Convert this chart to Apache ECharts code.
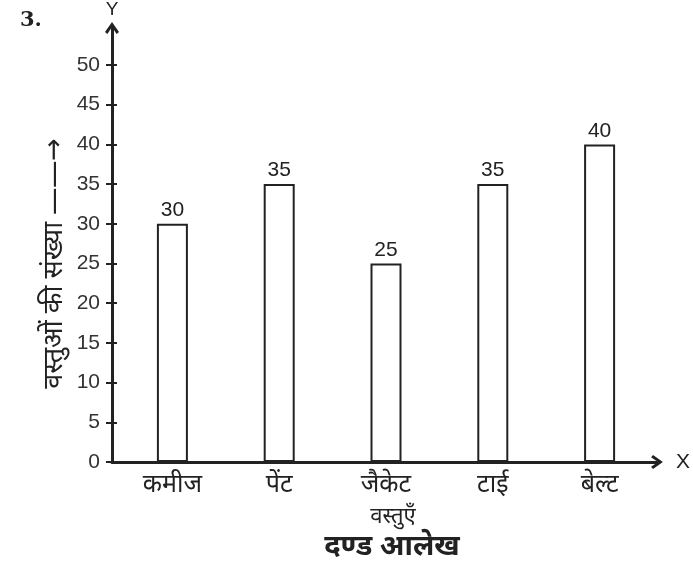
<!DOCTYPE html>
<html><head><meta charset="utf-8">
<script src="https://cdn.jsdelivr.net/npm/echarts@6/dist/echarts.min.js"></script>
<style>html,body{margin:0;padding:0;background:#fff}#c{width:693px;height:575px}</style>
</head><body><div id="c"></div>
<script>
const categories = ['कमीज', 'पेंट', 'जैकेट', 'टाई', 'बेल्ट'];
const values = [30, 35, 25, 35, 40];
const yMin = 0, yMax = 50, yStep = 5;
const xName = 'वस्तुएँ';
const yName = 'वस्तुओं की संख्या ——→';
const titleText = 'दण्ड आलेख';
const numberText = '3.';

const INK = '#222';
const FONT = '"Liberation Sans", "Noto Sans", sans-serif';
const DEVA = '"Noto Sans", "DejaVu Sans", sans-serif';
const ARROW = 'path://M0,9.2 L6.5,0 L13,9.2 L10.8,11 L6.5,4.6 L2.2,11 Z';

const chart = echarts.init(document.getElementById('c'));
chart.setOption({
  animation: false,
  backgroundColor: '#fff',
  title: [
    { text: numberText, left: 15, top: 5, textStyle: { fontFamily: '"DejaVu Serif", serif', fontWeight: 'bold', fontSize: 21, color: INK } },
    { text: xName, left: 388, top: 501, textAlign: 'center', textStyle: { fontFamily: DEVA, fontWeight: 'normal', fontSize: 22, color: INK } },
    { text: titleText, left: 387, top: 527, textAlign: 'center', textStyle: { fontFamily: DEVA, fontWeight: 'bold', fontSize: 29, color: INK } }
  ],
  grid: [
    { left: 119, right: 40, top: 65, bottom: 113 },
    { left: 112, right: 34, top: 28, bottom: 113 }
  ],
  xAxis: [
    { type: 'category', gridIndex: 0, data: categories,
      axisLine: { show: false }, axisTick: { show: false },
      axisLabel: { margin: 10, fontSize: 25, color: INK, fontFamily: DEVA } },
    { type: 'value', gridIndex: 1, min: 0, max: 1,
      axisLine: { show: true, lineStyle: { color: INK, width: 3 }, symbol: ['none', ARROW], symbolSize: [14, 12], symbolOffset: [0, 0] },
      axisTick: { show: false }, axisLabel: { show: false }, splitLine: { show: false },
      name: 'X', nameLocation: 'end', nameGap: 19, nameTextStyle: { fontFamily: FONT, fontSize: 21, color: INK } }
  ],
  yAxis: [
    { type: 'value', gridIndex: 0, min: yMin, max: yMax, interval: yStep, offset: 7,
      axisLine: { show: false }, splitLine: { show: false },
      axisTick: { show: true, length: 6, lineStyle: { color: INK, width: 2 } },
      axisLabel: { margin: 12, fontSize: 21, color: '#333', fontFamily: FONT },
      name: yName, nameLocation: 'middle', nameRotate: 90, nameGap: 44, nameMoveOverlap: false,
      nameTextStyle: { fontFamily: DEVA, fontSize: 27, color: INK } },
    { type: 'value', gridIndex: 0, min: yMin, max: yMax, interval: yStep, offset: 7, position: 'left',
      axisLine: { show: false }, splitLine: { show: false },
      axisTick: { show: true, inside: true, length: 5, lineStyle: { color: INK, width: 2 } },
      axisLabel: { show: false } },
    { type: 'value', gridIndex: 1, min: 0, max: 1,
      axisLine: { show: true, lineStyle: { color: INK, width: 3 }, symbol: ['none', ARROW], symbolSize: [14, 12], symbolOffset: [0, 0] },
      axisTick: { show: false }, axisLabel: { show: false }, splitLine: { show: false },
      name: 'Y', nameLocation: 'end', nameGap: 9, nameTextStyle: { fontFamily: FONT, fontSize: 19, color: INK } }
  ],
  series: [{
    type: 'bar', xAxisIndex: 0, yAxisIndex: 0, data: values, barWidth: 31,
    itemStyle: { color: '#fff', borderColor: INK, borderWidth: 2 },
    label: { show: true, position: 'top', distance: 3, fontSize: 21, color: INK, fontFamily: FONT }
  }]
});
</script></body></html>
